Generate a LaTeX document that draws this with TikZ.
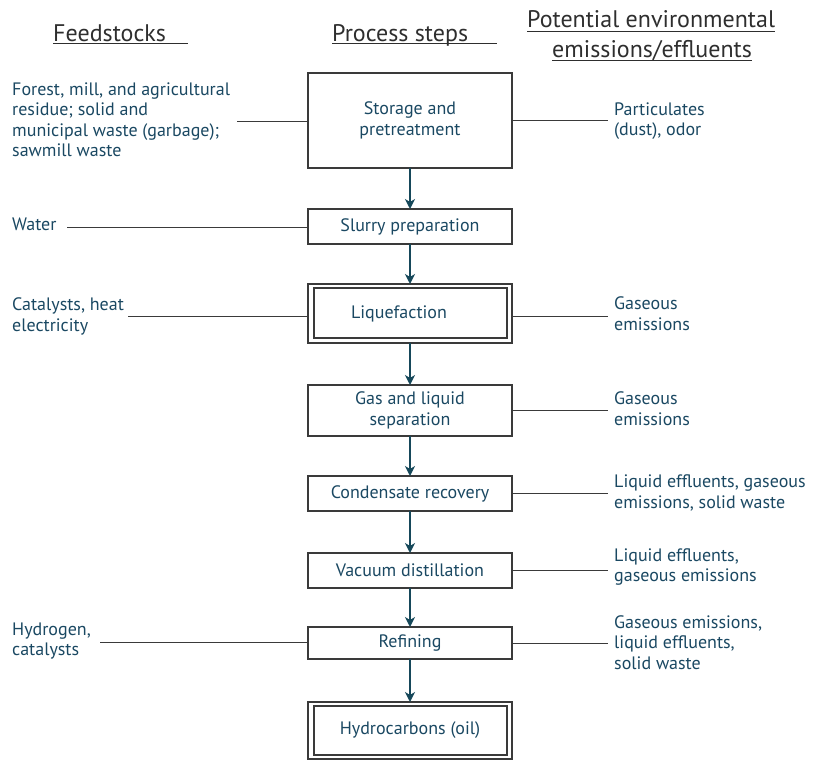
\documentclass[tikz,border=0pt]{standalone}
\usepackage{fontspec}
\setmainfont{PT Sans}
\usetikzlibrary{arrows.meta}
\definecolor{inkteal}{HTML}{1A4862}
\definecolor{arrowteal}{HTML}{16485A}
\definecolor{rulegray}{HTML}{3A3A3A}
\definecolor{headgray}{HTML}{2E2E2E}

\begin{document}
\begin{tikzpicture}[x=1pt,y=-1pt,
  stepbox/.style={draw=rulegray, line width=1.1pt, minimum width=204pt, inner sep=0pt,
    outer sep=0pt, text=inkteal, font=\fontsize{18}{20.5}\selectfont, align=center},
  sidetext/.style={anchor=west, inner sep=0pt, text=inkteal,
    font=\fontsize{18}{20.5}\selectfont, align=left},
  header/.style={anchor=base west, inner sep=0pt, text=headgray,
    font=\fontsize{24}{28}\selectfont},
  underl/.style={draw=headgray, line width=1pt},
  flow/.style={draw=arrowteal, line width=1.4pt,
    -{Stealth[length=10pt,width=10pt,inset=3pt]}},
  feed/.style={draw=rulegray, line width=1pt},
]
\useasboundingbox (0,0) rectangle (816,760);

% column headings
\node[header] (hfeed) at (53,42) {Feedstocks};
\node[header] (hproc) at (332,42) {Process steps};
\node[header] (hpot1) at (527,28) {Potential environmental};
\node[header] (hpot2) at (552,57) {emissions/effluents};
\draw[underl] ([yshift=-2pt]hfeed.base west) -- ++(135,0);
\draw[underl] ([yshift=-2pt]hproc.base west) -- ++(165,0);
\draw[underl] ([yshift=-4pt]hpot1.base west) -- ([yshift=-4pt]hpot1.base east);
\draw[underl] ([yshift=-4pt]hpot2.base west) -- ([yshift=-4pt]hpot2.base east);

% process steps
\node[stepbox, minimum height=95pt] (store) at (410,120.5) {Storage and\\pretreatment};
\node[stepbox, minimum height=35pt] (slurry) at (410,226.5) {Slurry preparation};
\node[stepbox, minimum height=59pt] (liq) at (410,313.5) {Liquefaction\hspace*{22pt}};
\node[stepbox, minimum height=51pt] (gas) at (410,410.5) {Gas and liquid\\separation};
\node[stepbox, minimum height=35pt] (cond) at (410,493.5) {Condensate recovery};
\node[stepbox, minimum height=35pt] (vac) at (410,570.5) {Vacuum distillation};
\node[stepbox, minimum height=32pt] (ref) at (410,643) {Refining};
\node[stepbox, minimum height=57pt] (hyd) at (410,730.5) {Hydrocarbons (oil)};

% inner frames of the double-bordered steps
\draw[rulegray, line width=1.1pt] ([shift={(6pt,-4pt)}]liq.north west) rectangle ([shift={(-5pt,5pt)}]liq.south east);
\draw[rulegray, line width=1.1pt] ([shift={(6pt,-4pt)}]hyd.north west) rectangle ([shift={(-5pt,4pt)}]hyd.south east);

% main flow
\draw[flow] (store) -- (slurry);
\draw[flow] (slurry) -- (liq);
\draw[flow] (liq) -- (gas);
\draw[flow] (gas) -- (cond);
\draw[flow] (cond) -- (vac);
\draw[flow] (vac) -- (ref);
\draw[flow] (ref) -- (hyd);

% feedstocks
\node[sidetext] (fforest) at (12,119.5) {Forest, mill, and agricultural\\residue; solid and\\municipal waste (garbage);\\sawmill waste};
\node[sidetext] (fwater) at (12,224) {Water};
\node[sidetext] (fcat) at (12,316.5) {Catalysts, heat\\electricity};
\node[sidetext] (fhyd) at (12,641) {Hydrogen,\\catalysts};

\coordinate (fforestend) at (237,121);
\coordinate (fwaterend) at (67,227);
\coordinate (fcatend) at (128,316);
\coordinate (fhydend) at (100,642);
\draw[feed] (fforestend) -- (fforestend -| store.west);
\draw[feed] (fwaterend) -- (fwaterend -| slurry.west);
\draw[feed] (fcatend) -- (fcatend -| liq.west);
\draw[feed] (fhydend) -- (fhydend -| ref.west);

% emissions and effluents
\node[sidetext] (epart) at (614,121) {Particulates\\(dust), odor};
\node[sidetext] (egas1) at (614,313.5) {Gaseous\\emissions};
\node[sidetext] (egas2) at (614,408.5) {Gaseous\\emissions};
\node[sidetext] (eliq1) at (614,493) {Liquid effluents, gaseous\\emissions, solid waste};
\node[sidetext] (eliq2) at (614,567) {Liquid effluents,\\gaseous emissions};
\node[sidetext] (egas3) at (614,642.5) {Gaseous emissions,\\liquid effluents,\\solid waste};

\coordinate (epartend) at (608,120);
\coordinate (egas1end) at (608,316);
\coordinate (egas2end) at (608,410);
\coordinate (eliq1end) at (608,493);
\coordinate (eliq2end) at (608,570);
\coordinate (egas3end) at (608,643);
\draw[feed] (store.east |- epartend) -- (epartend);
\draw[feed] (liq.east |- egas1end) -- (egas1end);
\draw[feed] (gas.east |- egas2end) -- (egas2end);
\draw[feed] (cond.east |- eliq1end) -- (eliq1end);
\draw[feed] (vac.east |- eliq2end) -- (eliq2end);
\draw[feed] (ref.east |- egas3end) -- (egas3end);
\end{tikzpicture}
\end{document}
